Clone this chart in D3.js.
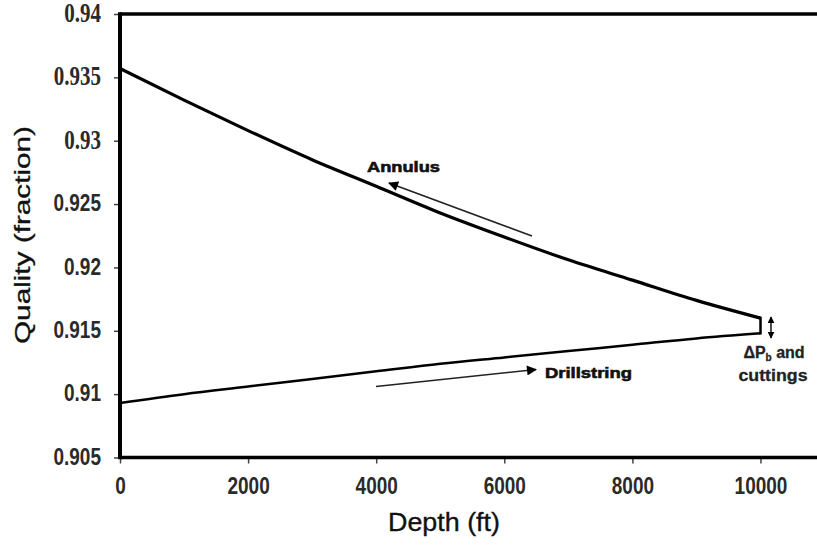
<!DOCTYPE html>
<html>
<head>
<meta charset="utf-8">
<script src="https://cdn.jsdelivr.net/npm/d3@7"></script>
<style>
  body { margin: 0; background: #fff; }
  svg { display: block; font-family: "Liberation Sans", Arial, sans-serif; }
</style>
</head>
<body>
<div id="chart"></div>
<script>
// values
var depth = [0, 1000, 2000, 3000, 4000, 5000, 6000, 7000, 8000, 9000, 10000];
var annulus = [0.9357, 0.9332, 0.9308, 0.9285, 0.9264, 0.9243, 0.9224, 0.9206, 0.9190, 0.9174, 0.9160];
var drillstring = [0.9093, 0.9100, 0.9106, 0.9112, 0.9118, 0.9124, 0.9129, 0.9134, 0.9139, 0.9144, 0.9148];
var xTicks = [0, 2000, 4000, 6000, 8000, 10000];
var yTicks = [0.905, 0.91, 0.915, 0.92, 0.925, 0.93, 0.935, 0.94];
var serifTicks = [0.93, 0.935, 0.94]; // these labels are set in a serif face in the original

var width = 817, height = 545;
var margins = {top: 14, left: 120, bottom: 87};
var stretch = 1.25; // the original picture is squashed sideways, text comes out tall

var svg = d3.select('#chart').append('svg')
  .attr('width', width)
  .attr('height', height);

// x domain runs past the visible edge, the original picture is cropped on the right
var x = d3.scaleLinear().domain([0, 12000]).range([margins.left, margins.left + 1.2 * 640.5]);
var y = d3.scaleLinear().domain([0.905, 0.94]).range([height - margins.bottom - 0.5, margins.top]);

// axes
var xAxis = svg.append('g')
  .attr('transform', 'translate(0,' + y(0.905) + ')')
  .call(d3.axisBottom(x).tickValues(xTicks).tickSize(6).tickSizeOuter(0).tickPadding(14).tickFormat(d3.format('d')));
xAxis.select('.domain').remove();
xAxis.selectAll('line').attr('stroke', '#444').attr('stroke-width', 1.5);
xAxis.selectAll('text')
  .attr('fill', '#2a2a2a')
  .style('font-size', '19px')
  .style('font-weight', 'bold')
  .each(function () {
    var t = d3.select(this);
    t.attr('transform', 'translate(0,' + t.attr('y') + ') scale(1,' + stretch + ')').attr('y', 0);
  });

var yAxis = svg.append('g')
  .attr('transform', 'translate(' + x(0) + ',0)')
  .call(d3.axisLeft(y).tickValues(yTicks).tickSize(6).tickSizeOuter(0).tickPadding(13).tickFormat(function (d) { return String(+d.toFixed(3)); }));
yAxis.select('.domain').remove();
yAxis.selectAll('line').attr('stroke', '#444').attr('stroke-width', 1.5);
yAxis.selectAll('text')
  .attr('fill', '#2a2a2a')
  .attr('dy', '0.28em')
  .attr('transform', 'scale(1,' + stretch + ')')
  .style('font-size', function (d) { return serifTicks.indexOf(d) >= 0 ? '21px' : '19px'; })
  .style('font-family', function (d) { return serifTicks.indexOf(d) >= 0 ? '"Liberation Serif", serif' : null; })
  .style('font-weight', 'bold');

// frame: left axis, bottom axis, top border
svg.append('line')
  .attr('x1', x(0)).attr('x2', width)
  .attr('y1', y(0.905)).attr('y2', y(0.905))
  .attr('stroke', '#000').attr('stroke-width', 3.5);
svg.append('line')
  .attr('x1', x(0)).attr('x2', width)
  .attr('y1', y(0.94)).attr('y2', y(0.94))
  .attr('stroke', '#000').attr('stroke-width', 3.5);
svg.append('line')
  .attr('x1', x(0)).attr('x2', x(0))
  .attr('y1', y(0.94) - 1.75).attr('y2', y(0.905) + 1.75)
  .attr('stroke', '#000').attr('stroke-width', 4);

// curves
var line = d3.line()
  .x(function (d) { return x(d[0]); })
  .y(function (d) { return y(d[1]); })
  .curve(d3.curveMonotoneX);

var dsPts = d3.zip(depth, drillstring);
var anPts = d3.zip(depth, annulus);

svg.append('path')
  .datum(dsPts)
  .attr('fill', 'none')
  .attr('stroke', '#000')
  .attr('stroke-width', 2.5)
  .attr('d', line);

// connector at the bit: drillstring end up to annulus start
svg.append('line')
  .attr('x1', x(10000)).attr('x2', x(10000))
  .attr('y1', y(drillstring[drillstring.length - 1]) + 1.2)
  .attr('y2', y(annulus[annulus.length - 1]) - 1.4)
  .attr('stroke', '#000').attr('stroke-width', 2.5);

svg.append('path')
  .datum(anPts)
  .attr('fill', 'none')
  .attr('stroke', '#000')
  .attr('stroke-width', 3.2)
  .attr('d', line);

// arrows
var defs = svg.append('defs');
defs.append('marker')
  .attr('id', 'head')
  .attr('viewBox', '0 0 10 10')
  .attr('refX', 9).attr('refY', 5)
  .attr('markerWidth', 11).attr('markerHeight', 10)
  .attr('markerUnits', 'userSpaceOnUse')
  .attr('orient', 'auto-start-reverse')
  .append('path')
  .attr('d', 'M0,0 L10,5 L0,10 z')
  .attr('fill', '#000');
defs.append('marker')
  .attr('id', 'smallhead')
  .attr('viewBox', '0 0 10 10')
  .attr('refX', 9).attr('refY', 5)
  .attr('markerWidth', 7).attr('markerHeight', 7)
  .attr('markerUnits', 'userSpaceOnUse')
  .attr('orient', 'auto-start-reverse')
  .append('path')
  .attr('d', 'M0,0 L10,5 L0,10 z')
  .attr('fill', '#000');

function arrow (x1, y1, x2, y2, w, both) {
  var l = svg.append('line')
    .attr('x1', x1).attr('y1', y1).attr('x2', x2).attr('y2', y2)
    .attr('stroke', '#222').attr('stroke-width', w);
  if (both) {
    l.attr('marker-start', 'url(#smallhead)').attr('marker-end', 'url(#smallhead)');
  } else {
    l.attr('marker-end', 'url(#head)');
  }
}

arrow(532, 236, 389, 183, 1.6);
arrow(376, 386.5, 536, 369.5, 1.6);
arrow(771, 317, 771, 338, 1.6, true);

// annotation text, heavy and wide like the original
function label (tx, ty, str, len) {
  return svg.append('text')
    .attr('x', tx).attr('y', ty)
    .attr('textLength', len).attr('lengthAdjust', 'spacingAndGlyphs')
    .style('font-size', '15px')
    .style('font-weight', 'bold')
    .attr('fill', '#111')
    .attr('stroke', '#111').attr('stroke-width', 0.6)
    .text(str);
}
label(367, 172, 'Annulus', 73);
label(545, 378, 'Drillstring', 87);

var dp = svg.append('text')
  .attr('x', 774).attr('y', 358)
  .attr('text-anchor', 'middle')
  .style('font-size', '16px')
  .style('font-weight', 'bold')
  .attr('fill', '#222')
  .attr('stroke', '#222').attr('stroke-width', 0.3);
dp.append('tspan').text('\u0394P');
dp.append('tspan').attr('dy', 3).style('font-size', '10px').text('b');
dp.append('tspan').attr('dy', -3).text(' and');
svg.append('text')
  .attr('x', 773).attr('y', 381)
  .attr('text-anchor', 'middle')
  .attr('textLength', 69).attr('lengthAdjust', 'spacingAndGlyphs')
  .style('font-size', '16px')
  .style('font-weight', 'bold')
  .attr('fill', '#222')
  .attr('stroke', '#222').attr('stroke-width', 0.3)
  .text('cuttings');

// axis titles
svg.append('text')
  .attr('transform', 'translate(444,531) scale(1,1.2)')
  .attr('text-anchor', 'middle')
  .attr('textLength', 112).attr('lengthAdjust', 'spacingAndGlyphs')
  .style('font-size', '22px')
  .attr('fill', '#111')
  .attr('stroke', '#111').attr('stroke-width', 0.3)
  .text('Depth (ft)');
svg.append('text')
  .attr('transform', 'translate(30,235) rotate(-90)')
  .attr('text-anchor', 'middle')
  .attr('textLength', 218).attr('lengthAdjust', 'spacingAndGlyphs')
  .style('font-size', '22px')
  .attr('fill', '#111')
  .attr('stroke', '#111').attr('stroke-width', 0.3)
  .text('Quality (fraction)');
</script>
</body>
</html>
